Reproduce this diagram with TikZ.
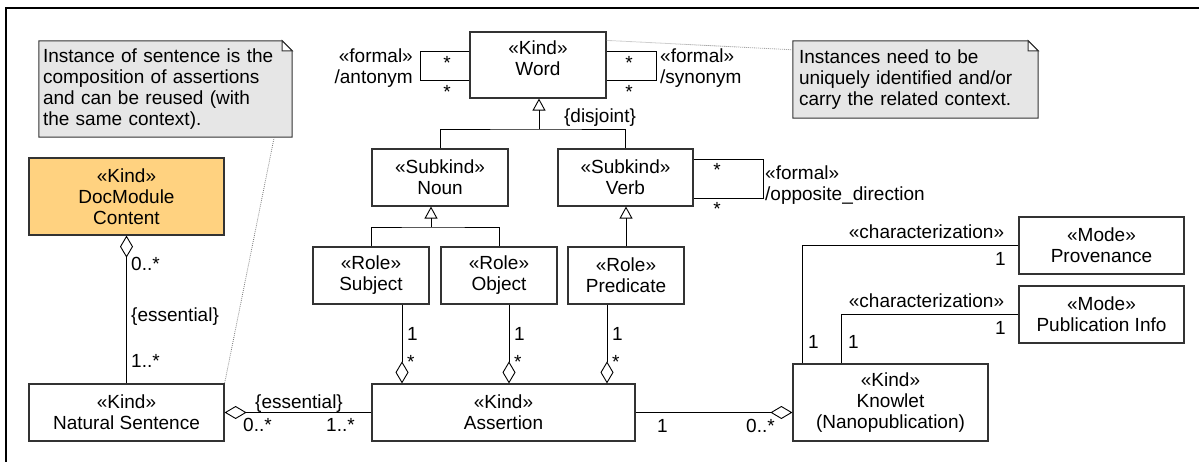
\documentclass[tikz,border=0pt]{standalone}
\usepackage{fontspec}
\setmainfont{Liberation Sans}
\usetikzlibrary{arrows.meta,calc,backgrounds}
\definecolor{edge}{HTML}{333333}
\definecolor{docfill}{HTML}{FFD280}
\definecolor{notefill}{HTML}{E6E6E6}
\definecolor{dotgray}{HTML}{777777}

\begin{document}
\begin{tikzpicture}[x=1pt, y=-1pt,
  font=\fontsize{19}{21}\selectfont,
  cls/.style={draw=edge, line width=1.2pt, align=center, inner sep=0pt, text=black},
  notebox/.style={align=left, inner ysep=0pt},
  lbl/.style={inner sep=0pt},
  conn/.style={draw=black, line width=0.9pt},
  aggstart/.style={conn, {Diamond[open,length=22pt,width=13pt]}-},
  aggend/.style={conn, -{Diamond[open,length=22pt,width=13pt]}},
  gen/.style={conn, -{Triangle[open,length=12pt,width=13pt]}},
  noteline/.style={draw=dotgray, line width=0.8pt, dash pattern=on 0.8pt off 1.2pt},
  notefold/.style={draw=edge, line width=1pt}
]
\useasboundingbox (0,0) rectangle (1199,462);

% frame
\draw[line width=1.3pt] (6,462) -- (6,8) -- (1199,8);

% classes
\node[cls, fill=docfill, minimum width=195pt, minimum height=77pt] (doc) at (126.5,196.5) {«Kind»\\DocModule\\Content};
\node[cls, minimum width=195pt, minimum height=57pt] (ns) at (126.5,412.5) {«Kind»\\Natural Sentence};
\node[cls, minimum width=136pt, minimum height=66pt] (word) at (538,65) {};
\node[lbl, align=center] (wordtxt) at (538,58.5) {«Kind»\\Word};
\node[cls, minimum width=136pt, minimum height=57pt] (noun) at (440,177.5) {«Subkind»\\Noun};
\node[cls, minimum width=135pt, minimum height=57pt] (verb) at (625.5,177.5) {«Subkind»\\Verb};
\node[cls, minimum width=116pt, minimum height=57pt] (subject) at (371,275.5) {«Role»\\Subject};
\node[cls, minimum width=116pt, minimum height=57pt] (object) at (499,275.5) {«Role»\\Object};
\node[cls, minimum width=116pt, minimum height=57pt] (predicate) at (626,275.5) {«Role»\\Predicate};
\node[cls, minimum width=263pt, minimum height=57pt] (assertion) at (503.5,412.5) {«Kind»\\Assertion};
\node[cls, minimum width=195pt, minimum height=77pt] (knowlet) at (890.5,402.5) {«Kind»\\Knowlet\\(Nanopublication)};
\node[cls, minimum width=165pt, minimum height=57pt] (prov) at (1101.5,245.5) {«Mode»\\Provenance};
\node[cls, minimum width=165pt, minimum height=57pt] (pubinfo) at (1101.5,314.5) {«Mode»\\Publication Info};

% notes
\node[notebox, minimum width=253pt, minimum height=96pt, text width=245pt, inner xsep=4pt] (note1) at (165.5,89)
  {Instance of sentence is the\\composition of assertions\\and can be reused (with\\the same context).};
\node[notebox, minimum width=245pt, minimum height=77pt, text width=233pt, inner xsep=6pt] (note2) at (915.5,79.5)
  {Instances need to be\\uniquely identified and/or\\carry the related context.};

\begin{pgfonlayer}{background}
  \foreach \n in {note1,note2} {
    \filldraw[notefold, fill=notefill] (\n.south west) -- (\n.north west) -- ([xshift=-10pt]\n.north east)
      -- ([yshift=-10pt]\n.north east) -- (\n.south east) -- cycle;
    \filldraw[notefold, fill=white] ([xshift=-10pt]\n.north east) -- ([xshift=-10pt,yshift=-10pt]\n.north east)
      -- ([yshift=-10pt]\n.north east) -- cycle;
  }
\end{pgfonlayer}

% note anchors
\draw[noteline] ($(note1.south east)+(-18,0)$) -- (ns.north east);
\draw[noteline] ([yshift=-9pt]word.north east) -- ([yshift=-9pt]note2.north west);

% self associations
\draw[conn] ([yshift=14pt]word.west) -- ++(-49,0) -- ++(0,29) -- ([yshift=-15pt]word.west);
\draw[conn] ([yshift=14pt]word.east) -- ++(50,0) -- ++(0,29) -- ([yshift=-15pt]word.east);
\draw[conn] ([yshift=18.5pt]verb.east) -- ++(70,0) -- ++(0,39) -- ([yshift=-20.5pt]verb.east);

\node[lbl, align=right, anchor=east] (antlbl) at (413,68.5) {«formal»\\/antonym};
\node[lbl] (ant1) at (447,63) {*};
\node[lbl] (ant2) at (447,92) {*};
\node[lbl, align=left, anchor=west] (synlbl) at (660,68.5) {«formal»\\/synonym};
\node[lbl] (syn1) at (629,63) {*};
\node[lbl] (syn2) at (629,92) {*};
\node[lbl, align=left, anchor=west] (opplbl) at (765,185.5) {«formal»\\/opposite\_direction};
\node[lbl] (opp1) at (717,170) {*};
\node[lbl] (opp2) at (717,209) {*};

% generalizations
\coordinate (wj) at (539,129);
\draw[conn] (noun.north) |- (wj) -| (verb.north);
\draw[gen] (wj) -- (wj |- word.south);
\node[lbl] (disj) at (600,118) {\{disjoint\}};

\coordinate (nj) at (431,227);
\draw[conn] (subject.north) |- (nj) -| (object.north);
\draw[gen] (nj) -- (nj |- noun.south);
\draw[gen] (predicate.north) -- (predicate.north |- verb.south);

% DocModule Content -- Natural Sentence
\draw[aggstart] (doc.south) -- (ns.north);
\node[lbl, anchor=west] (dm1) at (131,264) {0..*};
\node[lbl, anchor=west] (dm2) at (131,317) {\{essential\}};
\node[lbl, anchor=west] (dm3) at (131,361) {1..*};

% roles -- assertion
\draw[aggend] ([xshift=31pt]subject.south) -- ([xshift=31pt]subject.south |- assertion.north);
\draw[aggend] ([xshift=10pt]object.south) -- ([xshift=10pt]object.south |- assertion.north);
\draw[aggend] ([xshift=-19pt]predicate.south) -- ([xshift=-19pt]predicate.south |- assertion.north);
\node[lbl, anchor=west] (sub1) at (407,334) {1};
\node[lbl, anchor=west] (sub2) at (407,361.5) {*};
\node[lbl, anchor=west] (obj1) at (514,334) {1};
\node[lbl, anchor=west] (obj2) at (514,361.5) {*};
\node[lbl, anchor=west] (pre1) at (612,334) {1};
\node[lbl, anchor=west] (pre2) at (612,361.5) {*};

% natural sentence -- assertion
\draw[aggstart] (ns.east) -- (assertion.west);
\node[lbl] (nsa0) at (299,404) {\{essential\}};
\node[lbl, anchor=west] (nsa1) at (243,425) {0..*};
\node[lbl, anchor=west] (nsa2) at (326,425) {1..*};

% assertion -- knowlet
\draw[aggend] (assertion.east) -- (assertion.east -| knowlet.west);
\node[lbl, anchor=west] (ak1) at (657,426) {1};
\node[lbl, anchor=west] (ak2) at (746,426) {0..*};

% characterizations
\draw[conn] ([xshift=10pt]knowlet.north west) |- (prov.west);
\draw[conn] ([xshift=49pt]knowlet.north west) |- (pubinfo.west);
\node[lbl] (ch1) at (926.5,232) {«characterization»};
\node[lbl, anchor=west] (ch1a) at (995,259) {1};
\node[lbl, anchor=west] (ch1b) at (808,341.5) {1};
\node[lbl] (ch2) at (926.5,301) {«characterization»};
\node[lbl, anchor=west] (ch2a) at (995,328) {1};
\node[lbl, anchor=west] (ch2b) at (848,341.5) {1};
\end{tikzpicture}
\end{document}
